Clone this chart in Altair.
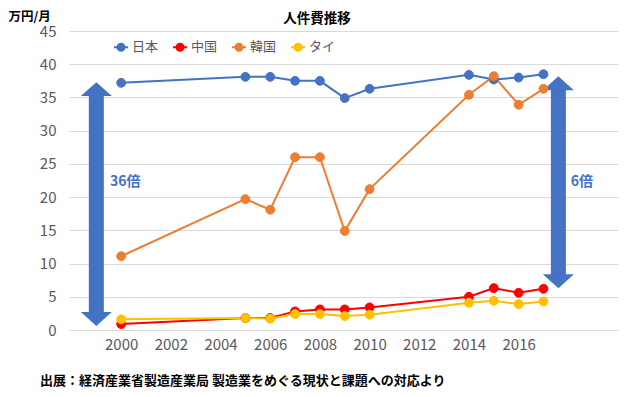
import altair as alt
import pandas as pd

years = [2000, 2005, 2006, 2007, 2008, 2009, 2010, 2014, 2015, 2016, 2017]
japan = [37.2, 38.1, 38.1, 37.5, 37.5, 34.9, 36.3, 38.4, 37.7, 38.0, 38.5]
china = [0.9, 1.8, 1.8, 2.8, 3.1, 3.1, 3.4, 5.0, 6.3, 5.6, 6.2]
korea = [11.1, 19.7, 18.1, 26.0, 26.0, 14.9, 21.2, 35.4, 38.2, 33.9, 36.3]
thai = [1.6, 1.8, 1.7, 2.4, 2.4, 2.1, 2.3, 4.1, 4.4, 3.9, 4.3]
countries = ["日本", "中国", "韓国", "タイ"]
colors = ["#4472C4", "#FF0000", "#ED7D31", "#FFC000"]
x_ticks = [2000, 2002, 2004, 2006, 2008, 2010, 2012, 2014, 2016]
y_ticks = [0, 5, 10, 15, 20, 25, 30, 35, 40, 45]

# annotation arrows (ratio of Japan to China): x position, top, bottom
arrow_x = [1999.0, 2017.6]
arrow_top = [37.3, 38.2]
arrow_bottom = [0.6, 6.3]
ratio_labels = ["36倍", "6倍"]
label_x = [1999.55, 2018.1]
label_y = [22.3, 22.3]

FONT = "Noto Sans CJK JP"
BLUE = "#4472C4"

rows = []
for name, vals in zip(countries, [japan, china, korea, thai]):
    for y, v in zip(years, vals):
        rows.append({"year": y, "value": v, "country": name})
df = pd.DataFrame(rows)

arrows = pd.DataFrame({"x": arrow_x, "top": arrow_top, "bottom": arrow_bottom})
labels = pd.DataFrame({"x": label_x, "y": label_y, "text": ratio_labels})

xscale = alt.Scale(domain=[1997.9, 2020], nice=False, zero=False)
yscale = alt.Scale(domain=[0, 45], nice=False)
cscale = alt.Scale(domain=countries, range=colors)

legend = alt.Legend(
    title=None, orient="none", legendX=44, legendY=8, direction="horizontal",
    symbolType="M-1,0L1,0M-0.5,0A0.5,0.5,0,1,0,0.5,0A0.5,0.5,0,1,0,-0.5,0Z",
    symbolSize=196, symbolStrokeWidth=2, labelFontSize=13, labelColor="#595959",
    labelFont=FONT, columnPadding=10, labelOffset=3,
)

xaxis = alt.Axis(values=x_ticks, format="d", grid=False, domain=False, ticks=False,
                 labelFontSize=15, labelColor="#595959", labelFont=FONT, labelPadding=7,
                 title=None)
yaxis = alt.Axis(values=y_ticks, grid=True, gridColor="#D9D9D9", domain=False, ticks=False,
                 labelFontSize=15, labelColor="#595959", labelFont=FONT, labelPadding=13,
                 labelOverlap=False,
                 title="万円/月", titleAngle=0, titleX=-61, titleY=-14.5, titleAlign="left",
                 titleBaseline="middle", titleFont=FONT, titleFontSize=12.5,
                 titleFontWeight="bold", titleColor="black")


def X(field):
    return alt.X(field, type="quantitative", scale=xscale, axis=xaxis)


def Y(field):
    return alt.Y(field, type="quantitative", scale=yscale, axis=yaxis)


base = alt.Chart(df)
lines = base.mark_line(strokeWidth=2).encode(
    x=X("year"),
    y=Y("value"),
    stroke=alt.Stroke("country:N", scale=cscale, legend=legend, sort=countries),
    detail="country:N",
)
points = base.mark_point(filled=True, size=78, opacity=1, strokeWidth=1).encode(
    x=X("year"),
    y=Y("value"),
    fill=alt.Fill("country:N", scale=cscale, legend=legend, sort=countries),
    stroke=alt.Stroke("country:N", scale=cscale, legend=legend, sort=countries),
)

shafts = alt.Chart(arrows).mark_rule(color=BLUE, strokeWidth=15, yOffset=13, y2Offset=-13,
                                     strokeCap="butt").encode(
    x=X("x"), y=Y("top"), y2="bottom:Q")
heads_up = alt.Chart(arrows).mark_point(
    shape="M0,0L1,0.9L-1,0.9Z", filled=True, color=BLUE, size=961, opacity=1).encode(
    x=X("x"), y=Y("top"))
heads_down = alt.Chart(arrows).mark_point(
    shape="M0,0L1,-0.9L-1,-0.9Z", filled=True, color=BLUE, size=961, opacity=1).encode(
    x=X("x"), y=Y("bottom"))
ratio_text = alt.Chart(labels).mark_text(
    align="left", baseline="middle", font=FONT, fontSize=14, fontWeight="bold",
    color=BLUE).encode(x=X("x"), y=Y("y"), text="text:N")

title_text = alt.Chart(pd.DataFrame({"t": ["人件費推移"]})).mark_text(
    align="center", baseline="middle", font=FONT, fontSize=13.5, fontWeight="bold",
    color="black").encode(x=alt.value(248), y=alt.value(-12), text="t:N")
footer_text = alt.Chart(pd.DataFrame({"t": ["出展：経済産業省製造産業局 製造業をめぐる現状と課題への対応より"]})).mark_text(
    align="left", baseline="middle", font=FONT, fontSize=13, fontWeight="bold",
    color="black").encode(x=alt.value(-29), y=alt.value(350), text="t:N")

chart = alt.layer(lines, shafts, heads_up, heads_down, points, ratio_text,
                  title_text, footer_text).properties(
    width=549, height=299,
    autosize=alt.AutoSizeParams(type="none"),
    padding={"left": 61, "top": 23, "right": 14, "bottom": 60},
).configure(font=FONT).configure_view(stroke=None)

chart.save("out.html", embed_options={"renderer": "svg", "actions": False})
